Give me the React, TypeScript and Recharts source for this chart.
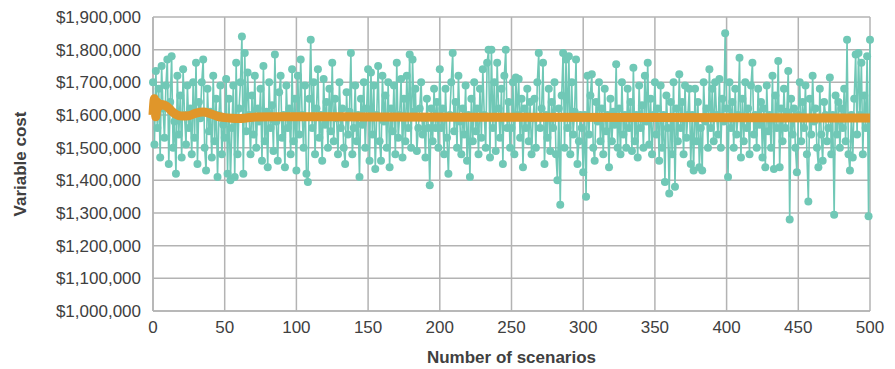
import { CartesianGrid, Label, Line, LineChart, XAxis, YAxis } from "recharts";

// variable cost per scenario, in $ thousands (scenario 0..500)
const costs = [
  1700, 1510, 1735, 1560, 1680, 1470, 1750, 1620, 1530, 1690, 1770, 1450, 1640, 1780, 1500, 1580, 1420, 1720, 1540, 1660, 1470, 1740, 1600, 1510, 1690,
  1560, 1620, 1480, 1700, 1530, 1760, 1450, 1640, 1590, 1700, 1770, 1500, 1430, 1680, 1550, 1610, 1470, 1720, 1520, 1650, 1410, 1600, 1690, 1480, 1570,
  1530, 1710, 1420, 1650, 1400, 1560, 1690, 1410, 1760, 1480, 1620, 1700, 1840, 1420, 1790, 1550, 1730, 1600, 1480, 1660, 1540, 1720, 1500, 1620, 1580,
  1680, 1460, 1750, 1520, 1610, 1440, 1700, 1560, 1630, 1490, 1785, 1580, 1460, 1670, 1720, 1530, 1600, 1440, 1690, 1560, 1620, 1480, 1740, 1520, 1650,
  1430, 1720, 1540, 1770, 1600, 1500, 1690, 1420, 1395, 1650, 1830, 1560, 1700, 1480, 1620, 1740, 1530, 1600, 1460, 1710, 1570, 1640, 1500, 1680, 1550,
  1760, 1520, 1650, 1590, 1480, 1700, 1560, 1620, 1500, 1450, 1670, 1540, 1610, 1790, 1480, 1560, 1690, 1520, 1600, 1410, 1650, 1570, 1700, 1500, 1620,
  1740, 1460, 1730, 1540, 1690, 1435, 1600, 1750, 1520, 1460, 1720, 1580, 1660, 1500, 1700, 1440, 1620, 1550, 1690, 1480, 1760, 1530, 1600, 1710, 1470,
  1650, 1520, 1720, 1560, 1785, 1500, 1770, 1610, 1680, 1490, 1560, 1620, 1700, 1540, 1590, 1470, 1650, 1560, 1385, 1620, 1520, 1680, 1560, 1640, 1500,
  1740, 1560, 1620, 1480, 1680, 1530, 1420, 1600, 1700, 1790, 1550, 1640, 1500, 1720, 1580, 1480, 1620, 1540, 1690, 1460, 1600, 1410, 1650, 1520, 1700,
  1550, 1620, 1480, 1680, 1530, 1740, 1600, 1500, 1760, 1800, 1470, 1800, 1560, 1700, 1490, 1760, 1620, 1530, 1680, 1450, 1720, 1800, 1560, 1640, 1500,
  1560, 1700, 1480, 1715, 1600, 1710, 1530, 1650, 1440, 1620, 1560, 1680, 1520, 1640, 1480, 1590, 1650, 1500, 1700, 1790, 1560, 1620, 1760, 1450, 1600,
  1530, 1680, 1490, 1640, 1560, 1700, 1480, 1400, 1620, 1325, 1660, 1790, 1500, 1770, 1560, 1780, 1480, 1700, 1540, 1610, 1770, 1450, 1520, 1600, 1560,
  1425, 1600, 1350, 1720, 1540, 1660, 1725, 1500, 1460, 1640, 1580, 1700, 1520, 1620, 1480, 1680, 1550, 1600, 1440, 1650, 1520, 1610, 1570, 1755, 1500,
  1620, 1480, 1700, 1540, 1600, 1500, 1680, 1560, 1640, 1490, 1745, 1520, 1600, 1470, 1690, 1560, 1630, 1500, 1720, 1580, 1760, 1510, 1650, 1480, 1600,
  1700, 1540, 1620, 1460, 1690, 1500, 1600, 1395, 1660, 1560, 1360, 1640, 1480, 1700, 1380, 1620, 1520, 1725, 1560, 1640, 1480, 1690, 1530, 1600, 1680,
  1450, 1600, 1430, 1680, 1520, 1640, 1440, 1560, 1430, 1700, 1580, 1620, 1500, 1740, 1560, 1680, 1520, 1700, 1600, 1540, 1710, 1500, 1650, 1580, 1850,
  1620, 1410, 1700, 1560, 1640, 1500, 1680, 1540, 1600, 1775, 1470, 1650, 1520, 1700, 1560, 1620, 1480, 1690, 1760, 1540, 1600, 1500, 1680, 1570, 1640,
  1470, 1620, 1440, 1690, 1550, 1600, 1500, 1720, 1435, 1660, 1560, 1765, 1440, 1620, 1520, 1680, 1560, 1610, 1735, 1280, 1650, 1540, 1620, 1500, 1425,
  1600, 1700, 1520, 1640, 1560, 1690, 1480, 1335, 1650, 1540, 1720, 1580, 1620, 1500, 1440, 1680, 1540, 1460, 1640, 1600, 1520, 1560, 1715, 1480, 1600,
  1295, 1660, 1540, 1640, 1500, 1620, 1560, 1680, 1520, 1830, 1480, 1430, 1600, 1470, 1650, 1785, 1540, 1790, 1600, 1760, 1480, 1660, 1560, 1780, 1290,
  1830,
];

// running average (scenario, $ thousands)
const avgScenarios = [0, 1, 2, 3, 4, 6, 8, 10, 13, 16, 20, 25, 30, 35, 40, 45, 50, 55, 60, 65, 72, 85, 150, 250, 350, 500];
const avgValues = [1600, 1650, 1595, 1640, 1625, 1632, 1630, 1625, 1612, 1602, 1597, 1598, 1606, 1609, 1604, 1596, 1592, 1590, 1589, 1591, 1594, 1595, 1594, 1593, 1592, 1591];

const xTicks = [0, 50, 100, 150, 200, 250, 300, 350, 400, 450, 500];
const yTicks = [1000000, 1100000, 1200000, 1300000, 1400000, 1500000, 1600000, 1700000, 1800000, 1900000];

const scenarioData = costs.map((v, i) => ({ n: i, v: v * 1000 }));
const avgData = avgScenarios.map((n, i) => ({ n, a: avgValues[i] * 1000 }));

const font = "'Liberation Sans', Arial, sans-serif";
const tickStyle = { fontSize: 17, fill: "#404040", fontFamily: font };

const fmt = (v: number) => "$" + v.toLocaleString("en-US");

export default function App() {
  return (
    <div style={{ position: "absolute", left: 0, top: 0 }}>
      <LineChart
        width={895}
        height={369}
        margin={{ top: 17, right: 25, left: 0, bottom: 0 }}
      >
        <CartesianGrid stroke="#b3b3b3" strokeWidth={1.5} />
        <XAxis
          type="number"
          dataKey="n"
          domain={[0, 500]}
          ticks={xTicks}
          height={58}
          tick={tickStyle}
          tickLine={false}
          tickMargin={4}
          axisLine={{ stroke: "#b3b3b3", strokeWidth: 1.5 }}
          allowDuplicatedCategory={false}
        >
          <Label
            value="Number of scenarios"
            position="insideBottom"
            offset={6}
            style={{ fontSize: 17, fontWeight: 700, fill: "#404040", fontFamily: font }}
          />
        </XAxis>
        <YAxis
          type="number"
          domain={[1000000, 1900000]}
          ticks={yTicks}
          width={153}
          tick={tickStyle}
          tickFormatter={fmt}
          tickLine={false}
          tickMargin={6}
          axisLine={{ stroke: "#b3b3b3", strokeWidth: 1.5 }}
        >
          <Label
            content={() => (
              <text
                x={22}
                y={164}
                transform="rotate(-90 22 164)"
                textAnchor="middle"
                dominantBaseline="middle"
                style={{ fontSize: 17, fontWeight: 700, fill: "#404040", fontFamily: font }}
              >
                Variable cost
              </text>
            )}
          />
        </YAxis>
        <Line
          data={scenarioData}
          dataKey="v"
          stroke="#70c8b6"
          strokeWidth={1.6}
          dot={{ r: 4, fill: "#70c8b6", stroke: "none" }}
          isAnimationActive={false}
        />
        <Line
          data={avgData}
          dataKey="a"
          type="monotone"
          stroke="#e0962a"
          strokeWidth={9}
          strokeLinejoin="round"
          dot={false}
          isAnimationActive={false}
          zIndex={1000}
        />
      </LineChart>
    </div>
  );
}
